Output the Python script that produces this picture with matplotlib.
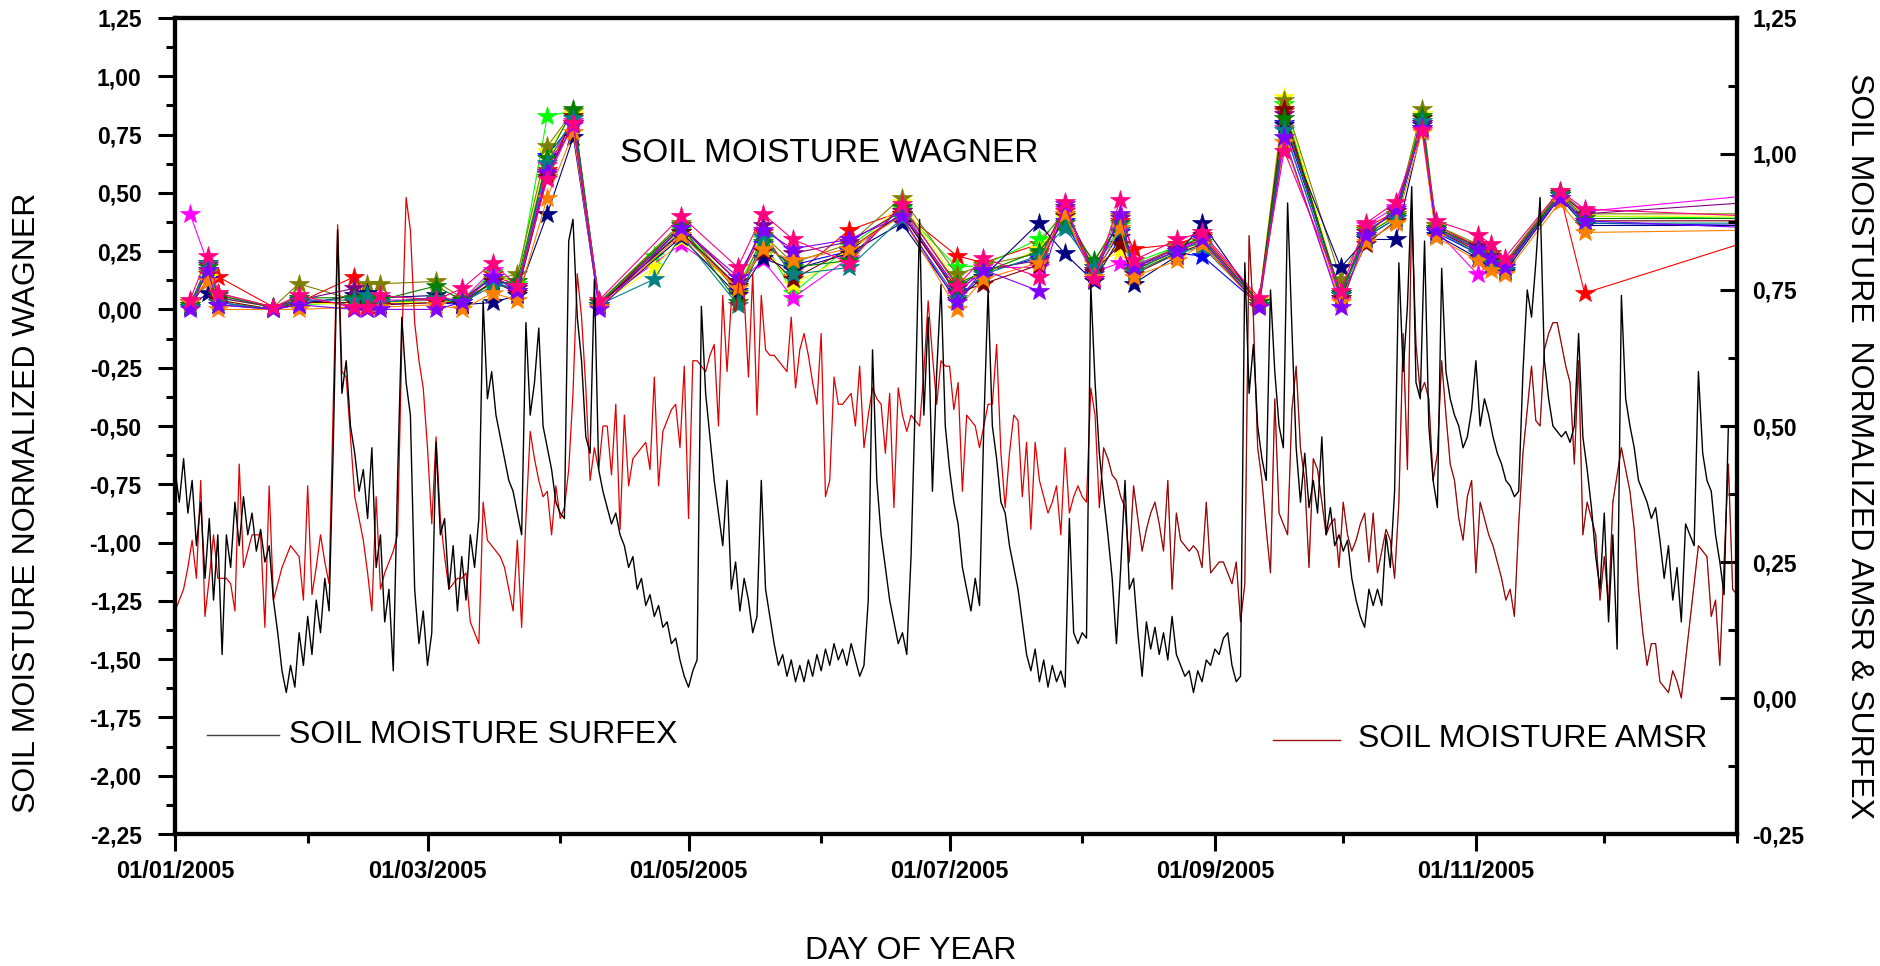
import numpy as np
import pandas as pd
import matplotlib
matplotlib.use('Agg')
import matplotlib.pyplot as plt
from matplotlib.lines import Line2D
from matplotlib.ticker import MultipleLocator
import matplotlib.dates as mdates

plt.rcParams['font.family'] = ['Liberation Sans', 'DejaVu Sans']

start = pd.Timestamp('2005-01-01')

# daily normalized soil moisture, right axis
surfex = [
    0.42, 0.36, 0.44, 0.34, 0.40, 0.28, 0.36, 0.22, 0.33, 0.18,
    0.30, 0.08, 0.30, 0.24, 0.36, 0.28, 0.37, 0.30, 0.34, 0.27,
    0.31, 0.25, 0.28, 0.18, 0.12, 0.05, 0.01, 0.06, 0.02, 0.12,
    0.06, 0.15, 0.08, 0.18, 0.12, 0.22, 0.16, 0.47, 0.86, 0.56,
    0.62, 0.50, 0.45, 0.38, 0.42, 0.33, 0.46, 0.24, 0.30, 0.14,
    0.20, 0.05, 0.40, 0.70, 0.58, 0.52, 0.20, 0.10, 0.16, 0.06,
    0.12, 0.47, 0.30, 0.33, 0.20, 0.28, 0.16, 0.26, 0.18, 0.30,
    0.24, 0.33, 0.73, 0.55, 0.60, 0.52, 0.48, 0.44, 0.40, 0.38,
    0.34, 0.30, 0.69, 0.52, 0.58, 0.68, 0.50, 0.46, 0.42, 0.36,
    0.34, 0.33, 0.84, 0.88, 0.70, 0.62, 0.48, 0.45, 0.77, 0.42,
    0.38, 0.35, 0.32, 0.34, 0.30, 0.28, 0.24, 0.26, 0.20, 0.22,
    0.17, 0.19, 0.15, 0.17, 0.13, 0.14, 0.10, 0.11, 0.07, 0.04,
    0.02, 0.05, 0.07, 0.72, 0.56, 0.48, 0.40, 0.34, 0.28, 0.40,
    0.20, 0.25, 0.16, 0.22, 0.18, 0.12, 0.15, 0.40, 0.20, 0.15,
    0.10, 0.06, 0.08, 0.04, 0.07, 0.03, 0.06, 0.03, 0.07, 0.04,
    0.08, 0.05, 0.09, 0.06, 0.10, 0.07, 0.09, 0.06, 0.10, 0.07,
    0.04, 0.06, 0.18, 0.64, 0.40, 0.30, 0.24, 0.18, 0.14, 0.10,
    0.12, 0.08, 0.26, 0.55, 0.88, 0.52, 0.70, 0.38, 0.60, 0.76,
    0.50, 0.42, 0.36, 0.32, 0.24, 0.20, 0.16, 0.22, 0.17, 0.50,
    0.75, 0.50, 0.44, 0.36, 0.34, 0.28, 0.24, 0.20, 0.14, 0.08,
    0.05, 0.09, 0.03, 0.07, 0.02, 0.06, 0.03, 0.05, 0.02, 0.33,
    0.12, 0.10, 0.12, 0.11, 0.76, 0.58, 0.45, 0.37, 0.30, 0.22,
    0.10, 0.24, 0.40, 0.20, 0.22, 0.12, 0.04, 0.14, 0.09, 0.13,
    0.08, 0.12, 0.07, 0.15, 0.08, 0.06, 0.04, 0.05, 0.01, 0.05,
    0.03, 0.07, 0.06, 0.09, 0.08, 0.11, 0.12, 0.06, 0.03, 0.04,
    0.80, 0.56, 0.65, 0.50, 0.44, 0.40, 0.75, 0.60, 0.50, 0.46,
    0.91, 0.68, 0.46, 0.36, 0.45, 0.35, 0.40, 0.34, 0.48, 0.30,
    0.35, 0.28, 0.30, 0.27, 0.29, 0.22, 0.18, 0.15, 0.13, 0.20,
    0.17, 0.20, 0.17, 0.30, 0.24, 0.38, 0.80, 0.60, 0.72, 0.94,
    0.58, 0.55, 0.84, 0.50, 0.40, 0.35, 0.79, 0.60, 0.55, 0.52,
    0.50, 0.46, 0.48, 0.53, 0.62, 0.50, 0.55, 0.52, 0.48, 0.45,
    0.43, 0.40, 0.39, 0.37, 0.38, 0.60, 0.75, 0.70, 0.80, 0.92,
    0.62, 0.55, 0.50, 0.49, 0.48, 0.49, 0.47, 0.50, 0.67, 0.48,
    0.42, 0.35, 0.26, 0.20, 0.34, 0.14, 0.30, 0.09, 0.74, 0.55,
    0.50, 0.46, 0.40, 0.38, 0.36, 0.33, 0.35, 0.29, 0.22, 0.28,
    0.18, 0.24, 0.14, 0.32, 0.30, 0.28, 0.60, 0.45, 0.40, 0.38,
    0.30, 0.25, 0.19, 0.50, 0.50, 0.50,
]

amsr = [
    0.16, 0.18, 0.20, 0.24, 0.29, 0.22, 0.40, 0.15, 0.22, 0.30,
    0.22, 0.22, 0.22, 0.21, 0.16, 0.43, 0.24, 0.27, 0.30, 0.30,
    0.30, 0.13, 0.39, 0.18, 0.21, 0.24, 0.26, 0.28, 0.27, 0.26,
    0.18, 0.39, 0.19, 0.24, 0.30, 0.25, 0.21, 0.55, 0.87, 0.60,
    0.59, 0.48, 0.37, 0.33, 0.29, 0.23, 0.16, 0.37, 0.20, 0.23,
    0.25, 0.27, 0.30, 0.65, 0.92, 0.86, 0.69, 0.62, 0.57, 0.46,
    0.32, 0.48, 0.33, 0.26, 0.20, 0.21, 0.22, 0.22, 0.23, 0.14,
    0.12, 0.10, 0.36, 0.29, 0.28, 0.27, 0.26, 0.24, 0.20, 0.16,
    0.29, 0.13, 0.33, 0.49, 0.44, 0.40, 0.37, 0.38, 0.30, 0.39,
    0.33, 0.35, 0.42, 0.56, 0.78, 0.70, 0.57, 0.40, 0.46, 0.42,
    0.50, 0.50, 0.41, 0.54, 0.31, 0.52, 0.39, 0.44, 0.45, 0.46,
    0.47, 0.42, 0.59, 0.39, 0.49, 0.51, 0.53, 0.54, 0.46, 0.61,
    0.33, 0.62, 0.62, 0.61, 0.60, 0.63, 0.65, 0.50, 0.74, 0.60,
    0.73, 0.71, 0.78, 0.74, 0.59, 0.78, 0.52, 0.74, 0.64, 0.63,
    0.63, 0.62, 0.61, 0.60, 0.70, 0.57, 0.64, 0.67, 0.63, 0.58,
    0.54, 0.67, 0.37, 0.40, 0.59, 0.54, 0.54, 0.55, 0.56, 0.50,
    0.61, 0.46, 0.52, 0.57, 0.55, 0.54, 0.45, 0.56, 0.35, 0.57,
    0.52, 0.49, 0.52, 0.51, 0.50, 0.60, 0.73, 0.63, 0.54, 0.62,
    0.61, 0.61, 0.53, 0.58, 0.38, 0.52, 0.51, 0.50, 0.46, 0.50,
    0.54, 0.54, 0.65, 0.45, 0.35, 0.45, 0.52, 0.51, 0.37, 0.47,
    0.31, 0.47, 0.40, 0.37, 0.34, 0.36, 0.39, 0.30, 0.46, 0.34,
    0.37, 0.39, 0.37, 0.36, 0.57, 0.52, 0.35, 0.46, 0.44, 0.41,
    0.40, 0.37, 0.35, 0.25, 0.39, 0.33, 0.27, 0.31, 0.34, 0.36,
    0.32, 0.27, 0.40, 0.20, 0.34, 0.29, 0.28, 0.27, 0.28, 0.27,
    0.24, 0.36, 0.23, 0.24, 0.25, 0.25, 0.23, 0.21, 0.25, 0.14,
    0.21, 0.85, 0.70, 0.46, 0.40, 0.31, 0.23, 0.55, 0.34, 0.32,
    0.30, 0.53, 0.61, 0.46, 0.40, 0.24, 0.44, 0.42, 0.36, 0.30,
    0.32, 0.33, 0.24, 0.36, 0.30, 0.27, 0.29, 0.32, 0.34, 0.25,
    0.34, 0.23, 0.27, 0.31, 0.29, 0.22, 0.36, 0.67, 0.42, 0.90,
    0.65, 0.56, 0.58, 0.55, 0.40, 0.45, 0.62, 0.52, 0.43, 0.40,
    0.33, 0.29, 0.37, 0.40, 0.23, 0.36, 0.33, 0.30, 0.28, 0.25,
    0.22, 0.18, 0.20, 0.15, 0.32, 0.45, 0.53, 0.61, 0.51, 0.50,
    0.64, 0.67, 0.69, 0.69, 0.65, 0.61, 0.58, 0.43, 0.62, 0.30,
    0.36, 0.33, 0.30, 0.18, 0.26, 0.17, 0.36, 0.41, 0.46, 0.42,
    0.38, 0.31, 0.20, 0.12, 0.06, 0.10, 0.10, 0.03, 0.02, 0.01,
    0.05, 0.03, 0.00, 0.07, 0.14, 0.21, 0.28, 0.27, 0.26, 0.15,
    0.18, 0.06, 0.25, 0.43, 0.20, 0.19,
]

# Wagner overpasses (day offsets from 1 Jan 2005) and one series per station, left axis
wagner_days = [3.5, 7.6, 10.1, 23, 28.9, 41.9, 44.9, 47.9, 60.9, 67.1, 74.2, 80, 87,
               93.1, 99.1, 112, 118.3, 131.5, 137.4, 144.4, 157.5, 169.8, 182.7, 188.9,
               201.8, 207.9, 214.7, 220.9, 224, 234.2, 240, 253.3, 259.2, 272.4, 278.3,
               285.3, 291.4, 294.7, 304.4, 307.6, 310.7, 323.6, 329.4, 369]

w_red = [.03, .15, .14, .01, .03, .14, .03, .02, .05, .02, .15, .10, .60, .82, .02, None, .36, .12, .33, .14, .34, .42,
         .23, .20, .28, .42, .18, .38, .26, .28, .32, .04, .85, .06, .35, .42, .80, .36, .27, .24, .20, .50, .07, .30]
w_lime = [.02, .17, .05, .01, .02, .03, .02, .03, .04, .03, .16, .11, .83, .85, .03, .23, .34, .10, .30, .07, .27, .43,
          .18, .19, .30, .40, .17, .36, .20, .27, .31, .03, .88, .05, .34, .41, .82, .35, .26, .23, .19, .50, .40, .39]
w_blue = [.01, .13, .03, .00, .04, .02, .03, .02, .03, .02, .12, .08, .66, .80, .02, None, .33, .08, .28, .19, .25, .41,
          .08, .16, .22, .38, .15, .33, .17, .24, .23, .02, .80, .07, .31, .39, .79, .33, .24, .21, .17, .49, .37, .36]
w_magenta = [.41, .20, .06, .01, .05, .01, .01, .04, .04, .04, .17, .09, .62, .81, .03, None, .28, .11, .21, .05, .22, .44,
             .06, .18, .18, .43, .16, .20, .19, .26, .30, .03, .78, .04, .36, .44, .80, .34, .15, .20, .18, .50, .42, .49]
w_yellow = [.02, .14, .04, .00, .03, .02, .02, .03, .03, .03, .14, .12, .68, .84, .02, .18, .30, .09, .27, .11, .23, .46,
            .12, .15, .26, .39, .19, .25, .16, .25, .29, .04, .91, .05, .33, .40, .84, .35, .25, .22, .19, .50, .40, .40]
w_olive = [.03, .16, .07, .01, .11, .04, .11, .11, .12, .05, .13, .15, .70, .85, .03, None, .37, .07, .32, .20, .28, .48,
           .15, .19, .24, .41, .20, .40, .18, .27, .30, .03, .90, .13, .34, .41, .86, .36, .28, .24, .20, .51, .41, .41]
w_navy = [.01, .07, .02, .00, .02, .06, .07, .05, .06, .02, .03, .06, .41, .74, .01, None, .31, .06, .22, .17, .24, .37,
          .04, .14, .37, .24, .12, .31, .11, .23, .37, .02, .79, .18, .30, .30, .78, .32, .22, .19, .16, .48, .36, .36]
w_purple = [.02, .19, .05, .01, .04, .09, .04, .03, .05, .04, .14, .09, .58, .80, .02, None, .35, .12, .36, .24, .29, .42,
            .09, .17, .21, .44, .17, .39, .18, .26, .31, .03, .84, .06, .33, .42, .80, .35, .27, .23, .19, .50, .41, .46]
w_maroon = [.03, .12, .04, .00, .03, .03, .02, .02, .03, .03, .12, .07, .57, .83, .02, None, .33, .10, .25, .13, .26, .41,
            .07, .11, .19, .40, .16, .28, .15, .24, .28, .02, .86, .05, .28, .38, .82, .34, .25, .21, .18, .49, .38, .38]
w_green = [.02, .18, .06, .01, .05, .05, .05, .04, .10, .04, .11, .12, .65, .86, .03, None, .36, .03, .29, .18, .21, .44,
           .11, .16, .25, .37, .21, .37, .17, .25, .29, .03, .82, .07, .32, .40, .83, .35, .26, .22, .18, .50, .39, .39]
w_teal = [.01, .20, .03, .00, .04, .04, .06, .03, .05, .03, .10, .10, .63, .82, .02, .13, .32, .02, .31, .15, .18, .39,
          .05, .15, .23, .35, .18, .34, .16, .24, .27, .02, .77, .06, .31, .39, .81, .34, .24, .20, .17, .49, .37, .37]
w_orange = [.03, .12, .00, .00, .00, .01, .00, .01, .02, .00, .07, .04, .48, .76, .01, None, .32, .09, .26, .21, .26, .40,
            .00, .13, .20, .41, .14, .35, .14, .21, .28, .01, .72, .03, .29, .37, .76, .31, .21, .17, .15, .46, .33, .34]
w_violet = [.00, .17, .02, .00, .02, .00, .00, .00, .00, .03, .14, .08, .59, .79, .00, None, .35, .14, .34, .26, .30, .40,
            .03, .17, .08, .45, .13, .41, .18, .25, .30, .01, .74, .01, .32, .43, .78, .34, .26, .22, .18, .48, .38, .35]
w_pink = [.04, .23, .07, .01, .06, .01, .01, .06, .04, .09, .20, .10, .56, .80, .04, None, .40, .18, .41, .30, .20, .45,
          .10, .22, .14, .46, .13, .47, .21, .30, .33, .05, .68, .08, .37, .46, .77, .38, .32, .28, .22, .51, .43, .40]

wagner_series = [
    (w_red, '#ff0000'), (w_lime, '#00ff00'), (w_blue, '#0000ff'), (w_magenta, '#ff00ff'),
    (w_yellow, '#ffff00'), (w_olive, '#808000'), (w_navy, '#000080'), (w_purple, '#800080'),
    (w_maroon, '#800000'), (w_green, '#008000'), (w_teal, '#008080'), (w_orange, '#ff8000'),
    (w_violet, '#8000ff'), (w_pink, '#ff0080'),
]

days = pd.date_range(start, periods=len(surfex), freq='D')
wag_x = start + pd.to_timedelta(wagner_days, unit='D')


def comma(v):
    return f'{v:.2f}'.replace('.', ',')


fig = plt.figure(figsize=(18.8, 9.66), dpi=100)
ax = fig.add_axes([0.0931, 0.1366, 0.8308, 0.8448])
ax2 = ax.twinx()

# Wagner stations: stars joined by thin lines
for vals, col in wagner_series:
    v = np.array(vals, dtype=float)
    ok = ~np.isnan(v)
    ax.plot(wag_x[ok], v[ok], color=col, lw=0.8, marker='*', ms=15,
            mec=col, mew=0.5, clip_on=True)

# SURFEX and AMSR on the right axis
ax2.plot(days, amsr, color='#e00000', lw=0.9)
late = days >= start + pd.Timedelta(days=216)
ax2.plot(days[late], np.array(amsr)[late], color='#202020', lw=0.6, alpha=0.55)
ax2.plot(days, surfex, color='black', lw=1.0)

end = pd.Timestamp('2006-01-01')
ax.set_xlim(start, end)
ax.set_ylim(-2.25, 1.25)
ax2.set_ylim(-0.25, 1.25)

left_ticks = np.arange(-2.25, 1.26, 0.25)
ax.set_yticks(left_ticks)
ax.set_yticklabels([comma(t) for t in left_ticks], fontweight='bold', fontsize=16.5)
ax.yaxis.set_minor_locator(MultipleLocator(0.125))

right_ticks = np.arange(-0.25, 1.26, 0.25)
ax2.set_yticks(right_ticks)
ax2.set_yticklabels([comma(t) for t in right_ticks], fontweight='bold', fontsize=16.5)
ax2.yaxis.set_minor_locator(MultipleLocator(0.125))

major_dates = pd.date_range('2005-01-01', '2005-11-01', freq='2MS')
ax.set_xticks(major_dates)
ax.set_xticklabels([d.strftime('%d/%m/%Y') for d in major_dates], fontweight='bold', fontsize=17)
ax.xaxis.set_minor_locator(mdates.MonthLocator())

ax.tick_params(axis='y', which='major', direction='out', length=12, width=2.2, pad=12)
ax.tick_params(axis='y', which='minor', direction='out', length=6.5, width=2.2)
ax.tick_params(axis='x', which='major', direction='out', length=12, width=2.2, pad=7)
ax.tick_params(axis='x', which='minor', direction='out', length=6.5, width=2.2)
ax2.tick_params(axis='y', which='major', direction='in', length=12, width=2.2, pad=11)
ax2.tick_params(axis='y', which='minor', direction='in', length=6.5, width=2.2)

for a in (ax, ax2):
    for s in a.spines.values():
        s.set_linewidth(3)

# axis titles
fig.text(0.0144, 0.479, 'SOIL MOISTURE NORMALIZED WAGNER', rotation=90,
         ha='center', va='center', fontsize=23)
fig.text(0.989, 0.538, 'SOIL MOISTURE  NORMALIZED AMSR & SURFEX', rotation=-90,
         ha='center', va='center', fontsize=23)
fig.text(0.4846, 0.0155, 'DAY OF YEAR', ha='center', va='center', fontsize=23)

fig.text(0.330, 0.8416, 'SOIL MOISTURE WAGNER', ha='left', va='center', fontsize=24)

# hand placed key entries
fig.add_artist(Line2D([207 / 1880, 279 / 1880], [1 - 735 / 966] * 2, color='#404040', lw=1))
fig.text(289 / 1880, 1 - 735 / 966, 'SOIL MOISTURE SURFEX', ha='left', va='center', fontsize=23)
fig.add_artist(Line2D([1273 / 1880, 1340 / 1880], [1 - 740 / 966] * 2, color='#a01010', lw=1))
fig.text(1358 / 1880, 1 - 739 / 966, 'SOIL MOISTURE AMSR', ha='left', va='center', fontsize=23)

fig.savefig('out.png', dpi=100)
